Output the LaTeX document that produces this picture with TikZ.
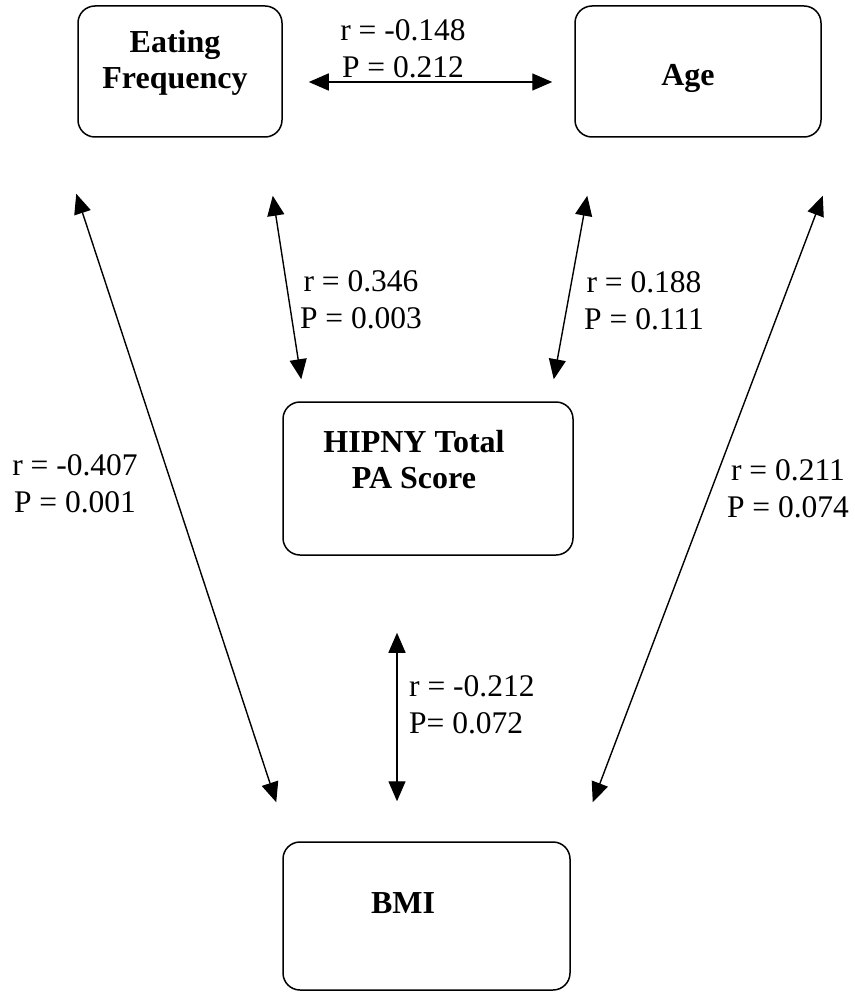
\documentclass[tikz,border=0pt]{standalone}
\usepackage{fontspec}
\setmainfont{Liberation Serif}
\usetikzlibrary{arrows.meta}
\begin{document}
\begin{tikzpicture}[x=1pt,y=-1pt,
  box/.style={draw, rounded corners=17pt, line width=1.5pt, inner sep=0pt},
  lbl/.style={font=\fontsize{32pt}{36pt}\selectfont\bfseries, align=center, inner sep=0pt},
  stat/.style={font=\fontsize{31.5pt}{37pt}\selectfont, align=center, inner sep=0pt},
  dbl/.style={{Triangle[length=20pt,width=17pt]}-{Triangle[length=20pt,width=17pt]}, line width=1.4pt}]
\useasboundingbox (0,0) rectangle (854,992);
% boxes
\node[box, minimum width=204pt, minimum height=131pt] (ef) at (180,71.5) {};
\node[box, minimum width=246pt, minimum height=131pt] (age) at (698,71.5) {};
\node[box, minimum width=290pt, minimum height=153pt] (hip) at (428,478.5) {};
\node[box, minimum width=287pt, minimum height=148pt] (bmi) at (426.5,916) {};
% box texts
\node[lbl] (efT) at (175,63) {Eating\\Frequency};
\node[lbl] (ageT) at (688,78) {Age};
\node[lbl] (hipT) at (414,460) {HIPNY Total\\PA Score};
\node[lbl] (bmiT) at (403,903) {BMI};
% statistics
\node[stat] (s1) at (403,49) {r = -0.148\\P = 0.212};
\node[stat] (s2) at (361,300) {r = 0.346\\P = 0.003};
\node[stat] (s3) at (644,301) {r = 0.188\\P = 0.111};
\node[stat] (s4) at (75,484) {r = -0.407\\P = 0.001};
\node[stat] (s5) at (788,489) {r = 0.211\\P = 0.074};
\node[stat, align=left, anchor=west] (s6) at (409,705) {r = -0.212\\P= 0.072};
% connectors
\draw[dbl] ([xshift=26pt,yshift=-10.5pt]ef.east) -- ([xshift=-22pt,yshift=-10.5pt]age.west);
\draw[dbl] ([xshift=-1pt,yshift=-56pt]ef.south west) -- ([xshift=-6pt,yshift=39pt]bmi.north west);
\draw[dbl] ([xshift=1pt,yshift=-58pt]age.south east) -- ([xshift=22pt,yshift=39pt]bmi.north east);
\draw[dbl] ([xshift=-10pt,yshift=-58pt]ef.south east) -- ([xshift=19pt,yshift=22pt]hip.north west);
\draw[dbl] ([xshift=13pt,yshift=-58pt]age.south west) -- ([xshift=-20pt,yshift=22pt]hip.north east);
\draw[dbl] ([xshift=-31pt,yshift=-77pt]hip.south) -- ([xshift=-29.5pt,yshift=40pt]bmi.north);
\end{tikzpicture}
\end{document}
